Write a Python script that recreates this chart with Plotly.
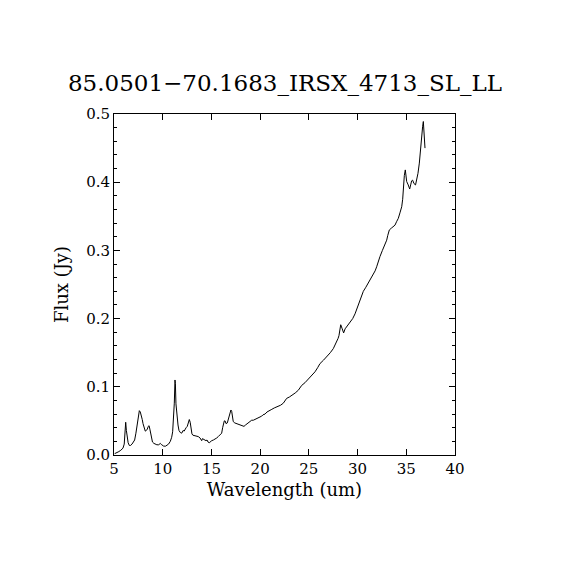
import plotly.graph_objects as go

# spectrum
wavelength = [
    5.07, 5.3, 5.5, 5.7, 5.92, 6.05, 6.12, 6.2, 6.27, 6.35, 6.45, 6.57, 6.7, 6.85,
    7.0, 7.12, 7.25, 7.36, 7.48, 7.6, 7.7, 7.8, 7.9, 7.98, 8.1, 8.21, 8.32, 8.42,
    8.52, 8.6, 8.68, 8.77, 8.86, 8.95, 9.1, 9.24, 9.4, 9.59, 9.75, 9.9, 10.1, 10.3,
    10.45, 10.6, 10.78, 10.92, 11.02, 11.12, 11.19, 11.26, 11.3, 11.36, 11.43, 11.5,
    11.57, 11.67, 11.8, 11.95, 12.1, 12.2, 12.29, 12.4, 12.52, 12.62, 12.73, 12.82,
    12.9, 13.0, 13.1, 13.3, 13.49, 13.65, 13.83, 13.92, 14.0, 14.08, 14.17, 14.3,
    14.44, 14.55, 14.65, 14.78, 14.9, 15.03, 15.2, 15.37, 15.55, 15.7, 15.9, 16.05,
    16.15, 16.22, 16.32, 16.4, 16.5, 16.63, 16.75, 16.9, 17.0, 17.08, 17.16, 17.24,
    17.4, 17.59, 17.8, 18.0, 18.15, 18.34, 18.5, 18.68, 18.85, 19.0, 19.13, 19.3,
    19.47, 19.65, 19.81, 20.0, 20.16, 20.3, 20.5, 20.7, 21.0, 21.2, 21.45, 21.65,
    21.87, 22.1, 22.38, 22.55, 22.72, 23.0, 23.24, 23.6, 23.92, 24.26, 24.6, 24.94,
    25.3, 25.63, 25.9, 26.14, 26.5, 26.83, 27.2, 27.51, 27.7, 27.86, 28.0, 28.09,
    28.18, 28.27, 28.4, 28.57, 28.72, 28.88, 29.05, 29.22, 29.5, 29.74, 30.0, 30.25,
    30.45, 30.59, 30.85, 31.1, 31.35, 31.62, 31.8, 31.96, 32.15, 32.3, 32.55, 32.81,
    32.99, 33.1, 33.26, 33.5, 33.84, 34.0, 34.18, 34.35, 34.53, 34.63, 34.7, 34.8,
    34.9, 34.97, 35.04, 35.2, 35.35, 35.45, 35.55, 35.65, 35.79, 35.95, 36.07, 36.2,
    36.34, 36.45, 36.58, 36.68, 36.75, 36.8, 36.85, 36.92,
]
flux = [
    0.002, 0.003, 0.005, 0.007, 0.010, 0.016, 0.028, 0.048, 0.036, 0.026, 0.018, 0.014, 0.014, 0.016,
    0.019, 0.022, 0.032, 0.044, 0.056, 0.065, 0.063, 0.059, 0.052, 0.046, 0.039, 0.035, 0.036, 0.038,
    0.042, 0.043, 0.038, 0.031, 0.024, 0.019, 0.017, 0.016, 0.015, 0.015, 0.017, 0.015, 0.013, 0.013,
    0.015, 0.016, 0.020, 0.026, 0.034, 0.055, 0.076, 0.110, 0.105, 0.075, 0.062, 0.050,
    0.044, 0.036, 0.033, 0.032, 0.036, 0.035, 0.038, 0.040, 0.042, 0.048, 0.052, 0.048,
    0.040, 0.031, 0.029, 0.028, 0.028, 0.027, 0.025, 0.022, 0.021, 0.024, 0.023, 0.022,
    0.021, 0.022, 0.019, 0.018, 0.020, 0.021, 0.022, 0.023, 0.025, 0.027, 0.030, 0.032,
    0.040, 0.046, 0.050, 0.050, 0.046, 0.047, 0.054, 0.061, 0.066, 0.064, 0.055, 0.049,
    0.047, 0.046, 0.045, 0.044, 0.043, 0.042, 0.044, 0.046, 0.048, 0.050, 0.051, 0.051,
    0.052, 0.054, 0.055, 0.056, 0.057, 0.059, 0.060, 0.063, 0.066, 0.067, 0.069, 0.070,
    0.072, 0.073, 0.076, 0.080, 0.083, 0.085, 0.087, 0.091, 0.095, 0.102, 0.106, 0.111,
    0.117, 0.122, 0.128, 0.134, 0.139, 0.144, 0.150, 0.156, 0.161, 0.166, 0.171, 0.175,
    0.185, 0.191, 0.186, 0.179, 0.185, 0.188, 0.190, 0.193, 0.200, 0.207, 0.217, 0.227,
    0.235, 0.240, 0.246, 0.252, 0.258, 0.264, 0.270, 0.276, 0.285, 0.291, 0.300, 0.308,
    0.315, 0.322, 0.330, 0.333, 0.337, 0.342, 0.347, 0.355, 0.364, 0.375, 0.395, 0.410,
    0.418, 0.412, 0.401, 0.396, 0.390, 0.396, 0.402, 0.403, 0.398, 0.396, 0.403, 0.413,
    0.428, 0.450, 0.472, 0.482, 0.489, 0.478, 0.467, 0.450,
]

x_ticks = [5, 10, 15, 20, 25, 30, 35, 40]
y_ticks = [0.0, 0.1, 0.2, 0.3, 0.4, 0.5]
y_tick_text = ["0.0", "0.1", "0.2", "0.3", "0.4", "0.5"]

font = "DejaVu Serif"

fig = go.Figure(
    go.Scatter(
        x=wavelength,
        y=flux,
        mode="lines",
        line=dict(color="black", width=1),
        showlegend=False,
    )
)

axis_common = dict(
    showline=True,
    linecolor="black",
    linewidth=1,
    mirror="ticks",
    ticks="inside",
    tickcolor="black",
    showgrid=False,
    zeroline=False,
    tickfont=dict(family=font, size=15, color="black"),
)

# the page puts the figure ~8px in from the corner, so margins are shifted
fig.update_layout(
    width=570,
    height=570,
    margin=dict(l=106, r=123, t=106, b=123),
    paper_bgcolor="white",
    plot_bgcolor="white",
    title=dict(
        text="85.0501\u221270.1683_IRSX_4713_SL_LL",
        x=(285 - 8) / 570,
        xanchor="center",
        y=1 - 75 / 570,
        yanchor="middle",
        font=dict(family=font, size=23, color="black"),
    ),
    xaxis=dict(
        axis_common,
        range=[5, 40],
        tickvals=x_ticks,
        ticklen=6,
        title=dict(text="Wavelength (um)", font=dict(family=font, size=18, color="black"), standoff=6),
    ),
    yaxis=dict(
        axis_common,
        range=[0, 0.5],
        tickvals=y_ticks,
        ticktext=y_tick_text,
        ticklen=6,
        minor=dict(dtick=0.02, ticks="inside", ticklen=3, tickcolor="black", showgrid=False),
        title=dict(text="Flux (Jy)", font=dict(family=font, size=18, color="black"), standoff=12),
    ),
)

fig.write_html("out.html")
